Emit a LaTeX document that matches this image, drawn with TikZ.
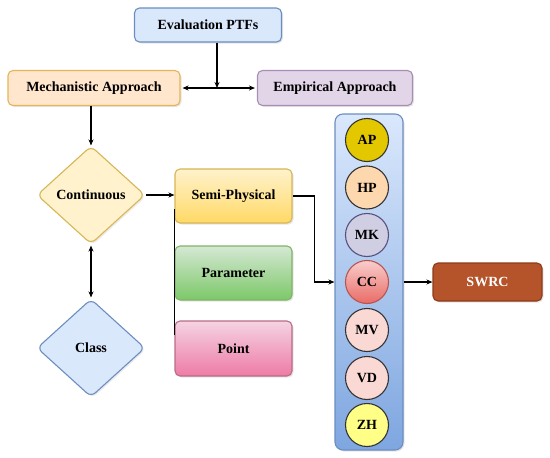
\documentclass[tikz,border=0pt]{standalone}
\usepackage{fontspec}
\setmainfont{Liberation Serif}
\usetikzlibrary{shapes.geometric,arrows.meta,shadows}
\definecolor{blueF}{HTML}{DAE8FC}
\definecolor{blueD}{HTML}{6C8EBF}
\definecolor{orF}{HTML}{FFE6CC}
\definecolor{orD}{HTML}{E5B45C}
\definecolor{puF}{HTML}{E1D5E7}
\definecolor{puD}{HTML}{A88DB5}
\definecolor{yeF}{HTML}{FFF2CC}
\definecolor{yeD}{HTML}{D6B656}
\definecolor{yeB}{HTML}{FFD966}
\definecolor{grF}{HTML}{D5E8D4}
\definecolor{grB}{HTML}{7CC868}
\definecolor{grD}{HTML}{82B366}
\definecolor{piF}{HTML}{F4D3E2}
\definecolor{piB}{HTML}{EE7BA6}
\definecolor{piD}{HTML}{B86C85}
\definecolor{colB}{HTML}{7EA6E0}
\definecolor{apF}{HTML}{E3C800}
\definecolor{hpF}{HTML}{FDD7AD}
\definecolor{mkF}{HTML}{D0CEE2}
\definecolor{mkD}{HTML}{56517E}
\definecolor{ccT}{HTML}{F8CECC}
\definecolor{ccB}{HTML}{EA6B66}
\definecolor{ccD}{HTML}{B85450}
\definecolor{mvF}{HTML}{FAD9D5}
\definecolor{zhF}{HTML}{FFFF88}
\definecolor{swF}{HTML}{B5532A}
\definecolor{swD}{HTML}{8E3A1A}
\tikzset{
  every node/.style={font=\fontsize{14}{16}\selectfont\bfseries, text=black},
  box/.style={rectangle, rounded corners=5pt, draw, line width=1.1pt, drop shadow={opacity=0.2,shadow xshift=1.5pt,shadow yshift=-1.5pt}},
  dia/.style={diamond, rounded corners=6pt, draw, line width=1.1pt, inner sep=0pt, minimum width=108pt, minimum height=98pt, drop shadow={opacity=0.15,shadow xshift=1.5pt,shadow yshift=-1.5pt}},
  circ/.style={circle, draw=black!80, line width=1.1pt, minimum size=43pt, inner sep=0pt},
  arr/.style={-{Stealth[length=6pt,width=5pt]}, line width=1.1pt},
  darr/.style={{Stealth[length=6pt,width=5pt]}-{Stealth[length=6pt,width=5pt]}, line width=1.1pt},
  ln/.style={line width=1.1pt}
}
\begin{document}
\begin{tikzpicture}[x=1pt,y=-1pt]
\useasboundingbox (0,0) rectangle (550,458);
\node[box, fill=blueF, draw=blueD, minimum width=147pt, minimum height=34pt] (eval) at (208,25) {Evaluation PTFs};
\node[box, fill=orF, draw=orD, minimum width=172pt, minimum height=35pt] (mech) at (94,88) {Mechanistic Approach};
\node[box, fill=puF, draw=puD, minimum width=155pt, minimum height=35pt] (emp) at (335,88) {Empirical Approach};
\node[dia, fill=yeF, draw=yeD] (cont) at (91,195) {Continuous};
\node[dia, fill=blueF, draw=blueD] (class) at (91,348) {Class};
\node[box, top color=yeF, bottom color=yeB, draw=yeD, minimum width=117pt, minimum height=54pt] (semi) at (233.5,196) {Semi-Physical};
\node[box, top color=grF, bottom color=grB, draw=grD, minimum width=117pt, minimum height=54pt] (param) at (233.5,273) {Parameter};
\node[box, top color=piF, bottom color=piB, draw=piD, minimum width=117pt, minimum height=55pt] (point) at (233.5,348.5) {Point};
\node[box, rounded corners=8pt, top color=blueF, bottom color=colB, draw=blueD, minimum width=68pt, minimum height=336pt] (col) at (369,282) {};
\node[circ, fill=apF] (ap) at (367,140) {AP};
\node[circ, fill=hpF] (hp) at (367,187.5) {HP};
\node[circ, fill=mkF, draw=mkD] (mk) at (367,235) {MK};
\node[circ, top color=ccT, bottom color=ccB, draw=ccD] (cc) at (367,282) {CC};
\node[circ, fill=mvF] (mv) at (367,330) {MV};
\node[circ, fill=mvF] (vd) at (367,378) {VD};
\node[circ, fill=zhF] (zh) at (367,425) {ZH};
\node[box, fill=swF, draw=swD, minimum width=109pt, minimum height=38pt, text=white] (swrc) at (487.5,282) {SWRC};
\coordinate (j) at (217,88);
\draw[arr] (eval.south -| j) -- (j);
\draw[darr, shorten <=2pt, shorten >=2pt] (mech.east) -- (emp.west);
\draw[arr] (mech.south -| cont.north) -- (cont.north);
\draw[arr] (cont.east) -- (cont.east -| semi.west);
\draw[darr, shorten <=1pt, shorten >=1pt] (cont.south) -- (class.north);
\draw[ln] ([yshift=-13pt]semi.west) -- ([yshift=14pt]point.west);
\draw[arr] (semi.east) -- ++(22,0) |- (col.west);
\draw[arr] (col.east) -- (swrc.west);
\end{tikzpicture}
\end{document}
